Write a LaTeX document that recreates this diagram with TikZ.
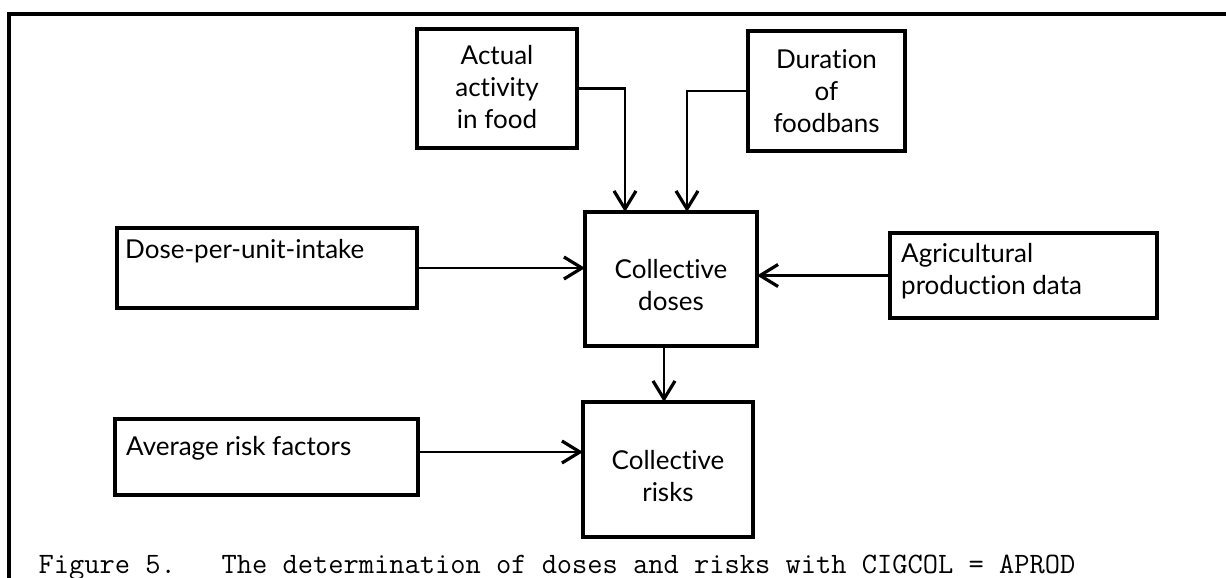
\documentclass[tikz,border=0pt]{standalone}
\usepackage{fontspec}
\setmainfont{Lato}[Ligatures={NoCommon,NoRare}]
\usetikzlibrary{arrows.meta}
% keeps "t" and "i" as separate glyphs
\newcommand{\tisep}{t\kern0pt i}
\begin{document}
\begin{tikzpicture}[x=1pt,y=-1pt,
  box/.style={draw, line width=3.4pt, inner sep=0pt, outer sep=0pt},
  boxtext/.style={inner sep=0pt, font=\fontsize{26}{32}\selectfont},
  link/.style={line width=2.8pt, -{Straight Barb[length=18pt,width=22pt,line width=3.2pt]}},
  frameline/.style={line width=3.4pt},
  captiontext/.style={inner sep=0pt, font=\ttfamily\fontsize{29.6}{32}\selectfont}]
\useasboundingbox[fill=white] (0,0) rectangle (1226,578);

% frame (top and left rules)
\draw[frameline] (1226,14) -- (9,14) -- (9,578);

% boxes
\node[box, minimum width=160pt, minimum height=119pt] (act)   at (497,88.5)   {};
\node[box, minimum width=157pt, minimum height=120pt] (dur)   at (826.5,91)   {};
\node[box, minimum width=172pt, minimum height=134pt] (doses) at (671,279)    {};
\node[box, minimum width=300pt, minimum height=80pt]  (dpu)   at (267,268)    {};
\node[box, minimum width=267pt, minimum height=85pt]  (agri)  at (1023.5,275.5) {};
\node[box, minimum width=170pt, minimum height=135pt] (risks) at (668,469.5)  {};
\node[box, minimum width=303pt, minimum height=76pt]  (avg)   at (266.5,457)  {};

% box texts
\node[boxtext, align=center, anchor=north] (actT) at (497,42)
  {\rule{0pt}{22pt}Actual\\activity\\in food};
\node[boxtext, align=center, anchor=north] (durT) at (826.5,46)
  {\rule{0pt}{22pt}Dura\tisep on\\of\\foodbans};
\node[boxtext, align=center, anchor=north] (dosesT) at (671,256)
  {\rule{0pt}{22pt}Collective\\doses};
\node[boxtext, align=center, anchor=north] (risksT) at (668,447)
  {\rule{0pt}{22pt}Collective\\risks};
\node[boxtext, align=left, anchor=north west] (dpuT) at (125,236)
  {\rule{0pt}{22pt}Dose-per-unit-intake};
\node[boxtext, align=left, anchor=north west] (agriT) at (901,240)
  {\rule{0pt}{22pt}Agricultural\\produc\tisep on data};
\node[boxtext, align=left, anchor=north west] (avgT) at (126,433)
  {\rule{0pt}{22pt}Average risk factors};

% connectors
\draw[link] (act.east) -| ([xshift=40pt]doses.north west);
\draw[link] (dur.west) -| ([xshift=-70pt]doses.north east);
\draw[link] (dpu.east) -- (dpu.east -| doses.west);
\draw[link] (agri.west) -- (agri.west -| doses.east);
\draw[link] ([xshift=-7pt]doses.south) -- ([xshift=-7pt]doses.south |- risks.north);
\draw[link] ([yshift=5pt]avg.east) -- ([yshift=5pt]avg.east -| risks.west);

% caption
\node[captiontext, anchor=base west] (cap) at (38.5,573)
  {Figure 5.\ \ \ The determination of doses and risks with CIGCOL = APROD};
\end{tikzpicture}
\end{document}
